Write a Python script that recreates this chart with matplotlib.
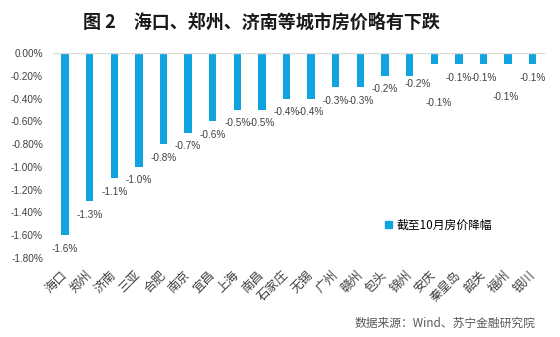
import matplotlib
matplotlib.use("Agg")
import matplotlib.pyplot as plt
from matplotlib.patches import Patch
import numpy as np

plt.rcParams['font.family'] = ['Liberation Sans', 'Noto Sans CJK SC', 'DejaVu Sans']
CJK = ['Noto Sans CJK SC', 'DejaVu Sans']

# City-level house price change through October (%)
cities = ['海口', '郑州', '济南', '三亚', '合肥', '南京', '宜昌', '上海', '南昌', '石家庄',
          '无锡', '广州', '赣州', '包头', '锦州', '安庆', '秦皇岛', '韶关', '福州', '银川']
changes = [-1.6, -1.3, -1.1, -1.0, -0.8, -0.7, -0.6, -0.5, -0.5, -0.4,
           -0.4, -0.3, -0.3, -0.2, -0.2, -0.1, -0.1, -0.1, -0.1, -0.1]
yticks = [0.0, -0.2, -0.4, -0.6, -0.8, -1.0, -1.2, -1.4, -1.6, -1.8]
series_name = '截至10月房价降幅'

# Label offsets (points) used to keep crowded value labels apart
label_dx = [0] * 20
label_dy = [-9.7] * 20
label_dx[14], label_dy[14] = 5.8, -6.1
label_dx[15], label_dy[15] = 3.2, -27.8
label_dx[18], label_dy[18] = -1.4, -23.5

bar_color = '#0FA3DF'
text_color = '#404040'

fig = plt.figure(figsize=(5.6, 3.37), dpi=100)
ax = fig.add_axes([52.75 / 560, 1 - 258 / 337, (545 - 52.75) / 560, (258 - 53) / 337])

x = np.arange(len(cities))
bars = ax.bar(x, changes, width=0.3, color=bar_color, zorder=2)

for xi, v, dx, dy in zip(x, changes, label_dx, label_dy):
    ax.annotate(f'{v:.1f}%', xy=(xi, v), xytext=(dx, dy), textcoords='offset points',
                ha='center', va='center', fontsize=7.2, color=text_color)

ax.set_xlim(-0.5, len(cities) - 0.5)
ax.set_ylim(-1.8, 0)
ax.set_yticks(yticks)
ax.set_yticklabels([f'{t:.2f}%' for t in yticks], fontsize=7.2, color=text_color)
ax.set_xticks(x)
ax.set_xticklabels(cities, rotation=45, ha='right', va='center', rotation_mode='anchor',
                   family=CJK, fontsize=9, color='#404040')
ax.tick_params(axis='x', length=0, pad=11)
ax.tick_params(axis='y', length=0, pad=7)
for s in ax.spines.values():
    s.set_visible(False)
ax.axhline(0, color='#d9d9d9', lw=1, zorder=3)

fig.text(261 / 560, 1 - 22 / 337, '图 2\u3000海口、郑州、济南等城市房价略有下跌',
         ha='center', va='center', fontsize=13, fontweight='bold', family=CJK, color='#1a1a1a')

fig.legend(handles=[Patch(color=bar_color, label=series_name)], loc='center left',
           bbox_to_anchor=(385 / 560, 1 - 225 / 337), bbox_transform=fig.transFigure,
           frameon=False, borderpad=0, borderaxespad=0, handlelength=0.6, handleheight=0.6,
           handletextpad=0.4, prop={'family': CJK, 'size': 8.5})

fig.text(535 / 560, 1 - 323 / 337, '数据来源：Wind、苏宁金融研究院', ha='right', va='center',
         fontsize=8.5, family=CJK, style='italic', color='#595959')

fig.savefig('out.png', dpi=100)
